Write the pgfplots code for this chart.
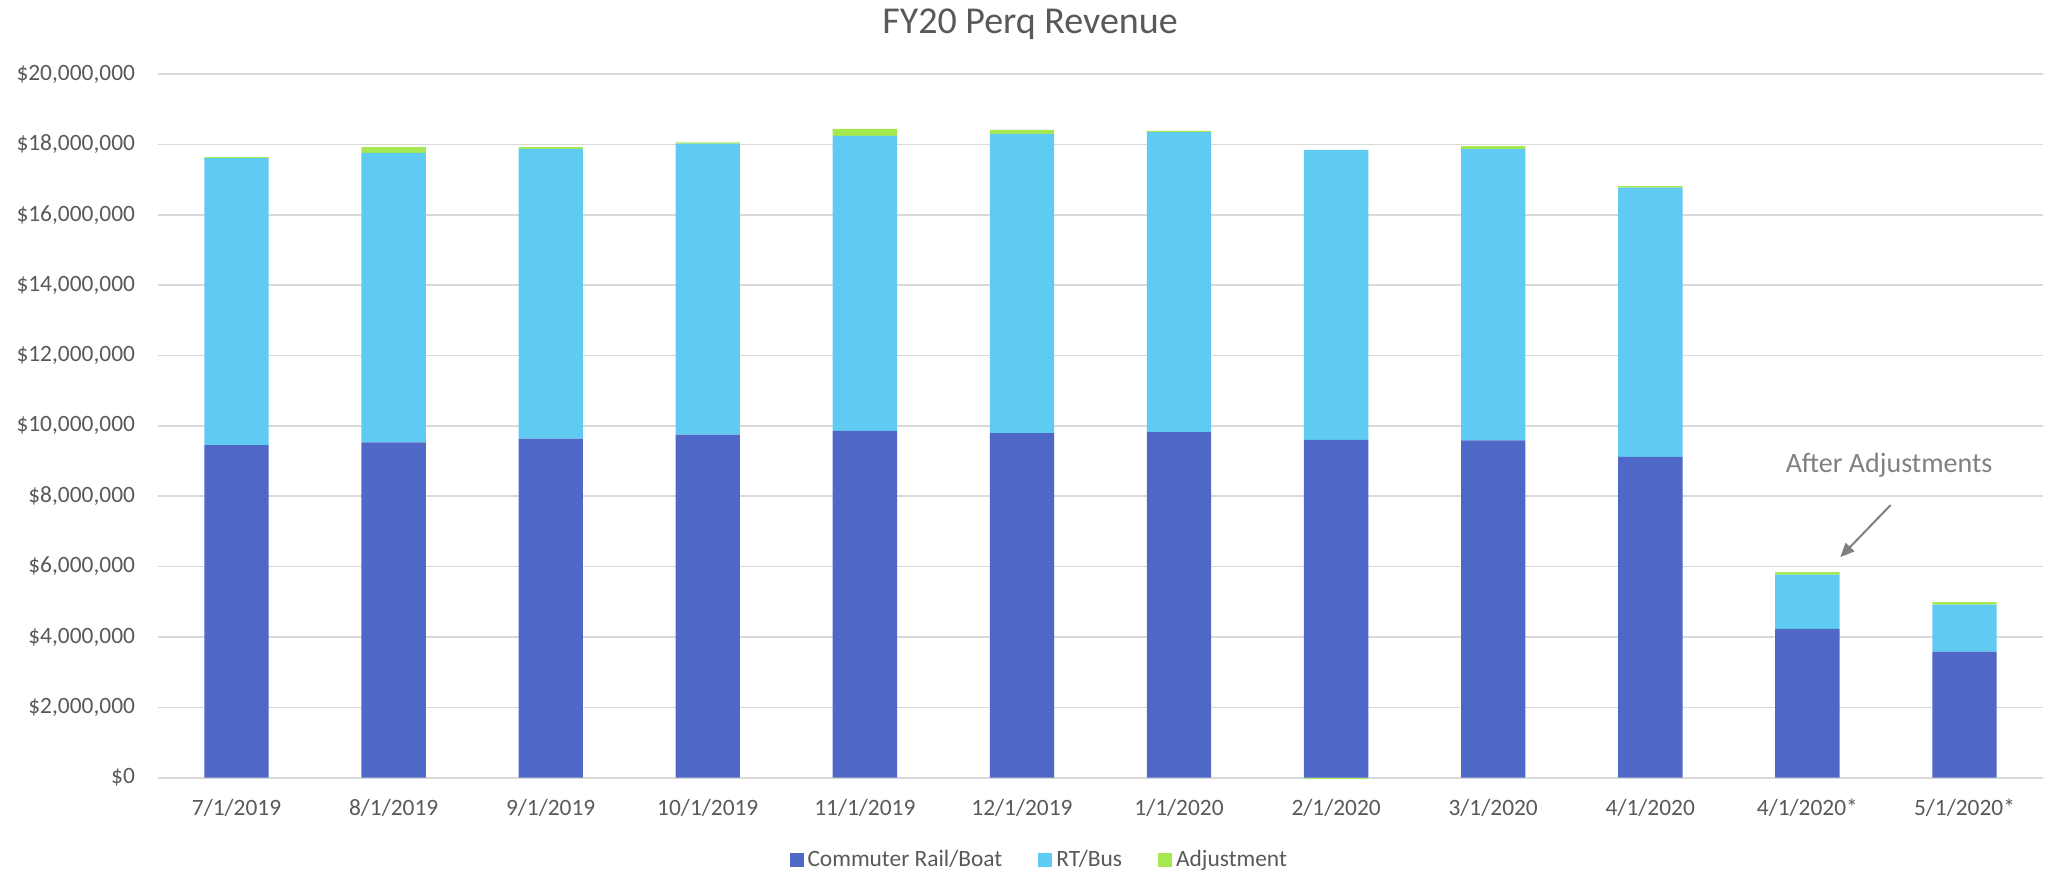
\documentclass[border=0pt]{standalone}
\usepackage{pgfplots}
\pgfplotsset{compat=1.18}
\usepackage{fontspec}
\setmainfont{Carlito}
\usetikzlibrary{calc,arrows.meta}
\definecolor{crboat}{RGB}{79,104,200}
\definecolor{rtbus}{RGB}{96,203,242}
\definecolor{adjust}{RGB}{166,232,80}
\definecolor{txtgray}{RGB}{89,89,89}
\definecolor{gridgray}{RGB}{217,217,217}
\begin{document}
\begin{tikzpicture}
\begin{axis}[
    name=main,
    scale only axis, width=942.5pt, height=351.85pt,
    ybar stacked, bar width=0.41,
    xmin=-0.5, xmax=11.5, ymin=0, ymax=20,
    xtick={0,...,11},
    xticklabels={7/1/2019,8/1/2019,9/1/2019,10/1/2019,11/1/2019,12/1/2019,1/1/2020,2/1/2020,3/1/2020,4/1/2020,4/1/2020*,5/1/2020*},
    ytick={0,2,...,20},
    yticklabels={{\$0},{\$2,000,000},{\$4,000,000},{\$6,000,000},{\$8,000,000},{\$10,000,000},{\$12,000,000},{\$14,000,000},{\$16,000,000},{\$18,000,000},{\$20,000,000}},
    major tick length=0,
    ymajorgrids, grid style={gridgray, line width=0.8pt},
    axis line style={draw=none},
    tick label style={font=\fontsize{11.7}{14}\selectfont, text=txtgray},
    y tick label style={xshift=-8pt},
    x tick label style={yshift=-7pt},
    legend columns=3,
    legend style={draw=none, font=\fontsize{11.7}{14}\selectfont, text=txtgray,
        at={(axis description cs:0.468,-0.1165)}, anchor=center,
        /tikz/every even column/.append style={column sep=16pt}},
    legend image code/.code={\fill[#1] (0pt,-3.5pt) rectangle (7pt,3.5pt);},
]
\addplot[fill=crboat, draw=none] coordinates {
    (0,9.45) (1,9.53) (2,9.64) (3,9.75) (4,9.86) (5,9.79) (6,9.82) (7,9.60) (8,9.59) (9,9.12) (10,4.23) (11,3.58)
};
\addlegendentry{Commuter Rail/Boat}
\addplot[fill=rtbus, draw=none] coordinates {
    (0,8.16) (1,8.23) (2,8.23) (3,8.27) (4,8.38) (5,8.51) (6,8.53) (7,8.24) (8,8.28) (9,7.65) (10,1.54) (11,1.34)
};
\addlegendentry{RT/Bus}
\addplot[fill=adjust, draw=none] coordinates {
    (0,0.03) (1,0.16) (2,0.05) (3,0.04) (4,0.20) (5,0.11) (6,0.03) (7,0) (8,0.08) (9,0.04) (10,0.07) (11,0.07)
};
\addlegendentry{Adjustment}
\node[font=\fontsize{14}{17}\selectfont, text=gray] at (axis cs:10.52,8.89) {After Adjustments};
\draw[gray, line width=1pt, -{Triangle[length=7pt,width=6pt]}] (axis cs:10.53,7.75) -- (axis cs:10.21,6.27);
\end{axis}
% negative adjustment of 2/1/2020 drawn below zero, as the source does
\begin{axis}[
    at={(main.south west)}, anchor=south west,
    scale only axis, width=942.5pt, height=351.85pt,
    ybar, bar width=0.41, clip=false,
    xmin=-0.5, xmax=11.5, ymin=0, ymax=20,
    hide axis,
]
\addplot[fill=adjust, draw=none] coordinates {(7,-0.05)};
\end{axis}
\node[anchor=base, font=\fontsize{19}{22}\selectfont, text=txtgray] at ($(main.north west)+(436pt,20.3pt)$) {FY20 Perq Revenue};
\pgfresetboundingbox
\path ($(main.south west)+(-79pt,-48.3pt)$) rectangle ($(main.north east)+(1.5pt,37pt)$);
\end{tikzpicture}
\end{document}
